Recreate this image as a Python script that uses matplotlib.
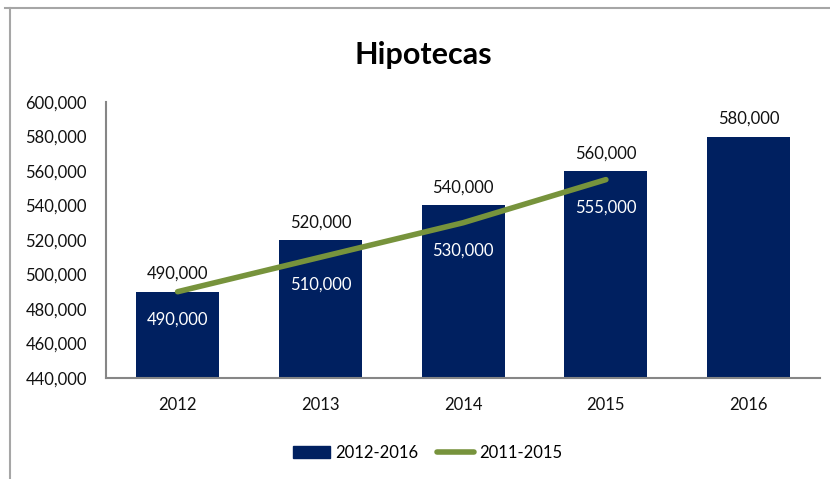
import matplotlib.pyplot as plt
from matplotlib.lines import Line2D
from matplotlib.ticker import FuncFormatter

plt.rcParams['font.family'] = ['Lato', 'DejaVu Sans']

# data
years = ['2012', '2013', '2014', '2015', '2016']
bars_2012_2016 = [490000, 520000, 540000, 560000, 580000]
line_2011_2015 = [490000, 510000, 530000, 555000]

navy = '#002060'
green = '#77933C'

fig = plt.figure(figsize=(8.3, 4.79), dpi=100)
ax = fig.add_axes([0.128, 0.211, 0.86, 0.576])

x = list(range(len(years)))
bars = ax.bar(x, bars_2012_2016, width=0.58, color=navy, label='2012-2016', zorder=2)
ax.bar_label(bars, labels=[f'{v:,}' for v in bars_2012_2016], padding=7,
             fontsize=12, color='#111111')

ax.plot(x[:len(line_2011_2015)], line_2011_2015, color=green, lw=4,
        solid_capstyle='round', label='2011-2015', zorder=3)
for i, v in enumerate(line_2011_2015):
    ax.annotate(f'{v:,}', (i, v), xytext=(0, -20), textcoords='offset points',
                ha='center', va='center', fontsize=12, color='white', zorder=4)

ax.set_xlim(-0.5, 4.5)
ax.set_ylim(440000, 600000)
ax.set_yticks(range(440000, 600001, 20000))
ax.yaxis.set_major_formatter(FuncFormatter(lambda v, p: f'{int(v):,}'))
ax.set_xticks(x)
ax.set_xticklabels(years)
ax.tick_params(length=0, labelsize=12, colors='#111111')
ax.tick_params(axis='x', pad=14)
ax.tick_params(axis='y', pad=14)

for s in ['top', 'right']:
    ax.spines[s].set_visible(False)
for s in ['left', 'bottom']:
    ax.spines[s].set_color('#868686')
    ax.spines[s].set_linewidth(1.5)

fig.text(0.51, 0.885, 'Hipotecas', ha='center', va='center',
         fontsize=22, fontweight='bold')

handles = [plt.Rectangle((0, 0), 1, 1, color=navy),
           Line2D([0], [0], color=green, lw=4, solid_capstyle='round')]
fig.legend(handles, ['2012-2016', '2011-2015'], loc='center',
           bbox_to_anchor=(0.515, 0.055), ncol=2, frameon=False, fontsize=12,
           handlelength=2.2, handletextpad=0.3, columnspacing=1.15)

# chart border
fig.add_artist(Line2D([0.012, 0.012], [0, 0.983], color='#a6a6a6', lw=1.5))
fig.add_artist(Line2D([0.006, 1], [0.983, 0.983], color='#a6a6a6', lw=1.5))

fig.savefig('out.png', dpi=100)
